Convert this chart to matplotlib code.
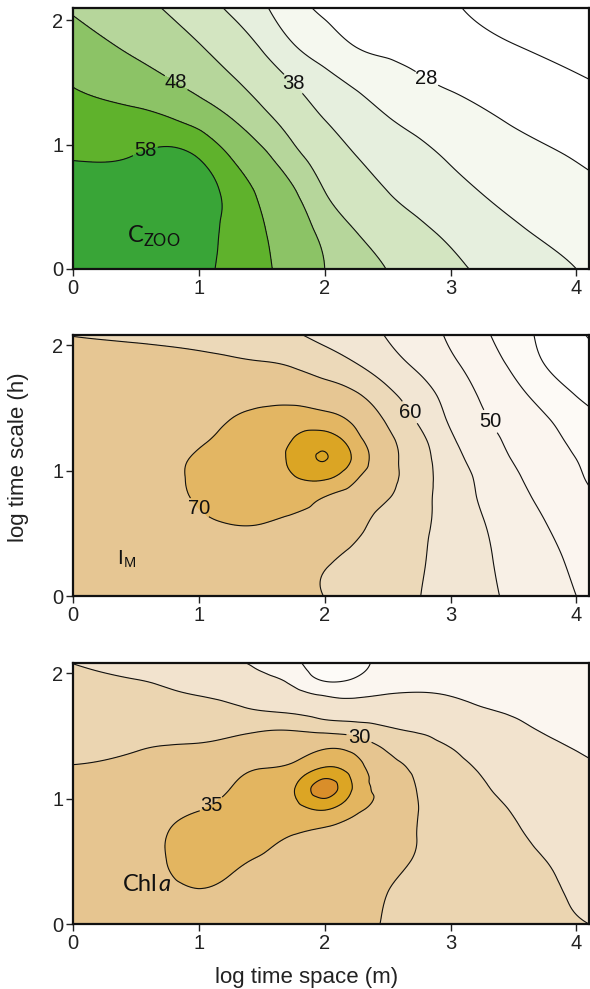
import numpy as np
import matplotlib
matplotlib.use("Agg")
import matplotlib.pyplot as plt
import matplotlib.tri as mtri

plt.rcParams['font.family'] = ['Liberation Sans', 'DejaVu Sans']

# ---------------- data ----------------
# Panel 1: C_ZOO  (rows = log time scale, columns = log space)
zoo_x = [0, 0.5, 1.0, 1.25, 1.5, 1.75, 2.0, 2.25, 2.5, 2.75, 3.0, 3.5, 4.1]
zoo_y = [0, 0.3, 0.6, 0.9, 1.2, 1.5, 1.8, 2.1]
zoo_z = [
    [62.0, 62.0, 59.3, 56.6, 53.9, 51.0, 48.0, 45.4, 42.9, 41.0, 39.0, 35.8, 32.5],
    [62.0, 62.0, 59.8, 56.9, 53.5, 50.2, 46.7, 43.0, 41.0, 38.9, 37.1, 33.7, 31.0],
    [61.5, 61.5, 59.8, 56.7, 52.3, 48.8, 43.25, 40.6, 38.2, 36.4, 34.6, 31.8, 29.2],
    [57.6, 58.3, 57.8, 53.0, 49.3, 44.5, 41.0, 38.1, 36.2, 34.3, 32.6, 30.1, 27.2],
    [55.0, 54.3, 51.3, 48.3, 44.6, 41.1, 38.0, 35.6, 33.3, 31.7, 30.3, 27.5, 24.9],
    [52.7, 50.2, 46.5, 43.9, 40.9, 37.9, 34.7, 32.2, 30.4, 28.7, 27.4, 25.5, 23.2],
    [50.0, 47.0, 43.2, 40.5, 37.5, 33.2, 30.4, 27.8, 26.9, 26.0, 25.0, 23.1, 20.8],
    [47.5, 44.4, 40.2, 37.4, 34.0, 29.8, 27.0, 26.2, 25.3, 24.4, 23.4, 21.3, 19.5],
]
zoo_levels = [23, 28, 33, 38, 43, 48, 53, 58]

# Panel 2: I_M  (rows = log time scale, columns = log space)
im_x = [0, 0.5, 1.0, 1.25, 1.5, 1.75, 2.0, 2.25, 2.5, 2.75, 3.0, 3.25, 3.5, 3.75, 4.1]
im_y = [0, 0.3, 0.6, 0.8, 0.95, 1.1, 1.25, 1.4, 1.6, 1.85, 2.1]
im_z = [
    [67.5, 67.5, 67.3, 67.0, 66.5, 65.8, 64.95, 63.4, 61.8, 60.1, 58.1, 56.1, 54.1, 52.0, 49.2],
    [67.8, 67.8, 67.8, 67.6, 67.2, 66.5, 65.5, 64.1, 62.5, 60.5, 58.2, 55.8, 53.5, 51.3, 48.1],
    [68.0, 68.2, 69.6, 70.2, 70.2, 69.5, 68.3, 66.2, 63.4, 61.0, 58.2, 55.2, 52.6, 50.0, 46.6],
    [68.0, 68.5, 70.3, 71.0, 71.5, 71.9, 70.2, 68.0, 65.4, 61.7, 57.9, 54.4, 51.5, 48.8, 45.5],
    [68.0, 68.6, 70.5, 71.5, 72.5, 74.7, 76.2, 70.7, 66.3, 62.0, 57.8, 53.9, 50.7, 48.0, 44.6],
    [68.0, 68.7, 70.3, 71.5, 73.0, 76.3, 80.2, 73.5, 66.6, 62.0, 56.9, 52.9, 49.7, 47.3, 43.9],
    [67.8, 68.5, 69.6, 71.0, 72.5, 75.1, 77.5, 71.5, 65.9, 61.3, 55.7, 51.9, 48.8, 46.4, 42.8],
    [67.5, 68.0, 68.8, 70.05, 71.2, 72.2, 72.0, 69.0, 64.4, 59.4, 54.4, 50.7, 48.0, 45.5, 41.5],
    [67.0, 67.3, 67.8, 68.3, 68.8, 68.6, 67.5, 65.6, 61.3, 57.3, 53.1, 49.5, 46.5, 43.1, 38.8],
    [66.5, 66.3, 66.0, 65.7, 65.3, 64.5, 62.5, 60.1, 57.0, 54.0, 50.9, 47.6, 44.0, 39.9, 36.6],
    [64.7, 64.2, 63.5, 62.8, 61.8, 60.3, 58.4, 56.6, 54.6, 52.0, 49.2, 45.8, 42.2, 38.8, 34.5],
]
im_levels = [35, 40, 45, 50, 55, 60, 65, 70, 75, 80]

# Panel 3: Chla  (given column by column: one list per log-space value)
chl_x = [0, 0.5, 0.75, 1.0, 1.25, 1.5, 1.75, 2.0, 2.25, 2.5, 2.75, 3.0, 3.25, 3.5, 3.75, 4.1]
chl_y = [0, 0.25, 0.5, 0.7, 0.9, 1.08, 1.25, 1.4, 1.55, 1.7, 1.85, 1.95, 2.1]
chl_cols = [
    [32.3, 32.4, 32.2, 31.8, 31.2, 30.7, 30.1, 29.2, 28.3, 27.4, 26.5, 25.9, 24.8],
    [32.8, 33.4, 33.7, 33.5, 33.0, 32.2, 31.0, 29.8, 28.5, 27.2, 25.9, 25.0, 23.7],
    [33.1, 34.2, 35.05, 35.05, 34.2, 33.0, 31.7, 30.3, 28.4, 26.8, 25.3, 24.4, 23.3],
    [33.3, 34.8, 36.4, 36.6, 35.0, 33.4, 31.8, 30.4, 28.7, 26.6, 24.6, 23.4, 21.8],
    [33.2, 34.3, 35.7, 37.0, 36.6, 35.0, 33.3, 31.2, 29.0, 26.0, 23.8, 22.4, 20.4],
    [32.8, 33.5, 34.6, 36.2, 37.3, 36.6, 34.8, 32.2, 29.6, 25.0, 22.6, 21.0, 18.9],
    [32.2, 32.9, 33.7, 34.9, 37.6, 39.5, 36.0, 32.8, 29.7, 24.2, 20.9, 18.6, 15.8],
    [31.5, 32.1, 32.8, 34.0, 39.6, 47.0, 40.0, 34.8, 28.6, 22.8, 18.8, 14.4, 12.8],
    [30.7, 31.2, 31.9, 32.9, 35.6, 38.5, 36.8, 33.5, 27.5, 22.3, 18.7, 15.5, 13.5],
    [29.8, 30.0, 30.8, 31.5, 33.0, 33.6, 31.8, 29.4, 25.5, 22.8, 19.6, 17.8, 16.4],
    [28.9, 29.2, 29.7, 29.9, 29.95, 29.6, 28.6, 26.6, 24.6, 22.5, 19.95, 18.6, 17.4],
    [28.0, 28.3, 28.5, 28.6, 28.3, 27.6, 26.3, 25.05, 23.6, 21.5, 19.6, 18.6, 17.6],
    [27.3, 27.4, 27.4, 27.1, 26.5, 25.6, 24.4, 23.2, 21.9, 20.3, 19.0, 18.3, 17.5],
    [26.6, 26.4, 26.1, 25.6, 24.8, 23.7, 22.6, 21.6, 20.6, 19.7, 18.7, 18.0, 17.3],
    [25.9, 25.6, 25.05, 24.2, 23.2, 22.3, 21.4, 20.6, 19.8, 19.1, 18.3, 17.8, 17.1],
    [25.0, 24.0, 23.2, 22.5, 21.8, 21.1, 20.3, 19.7, 19.1, 18.5, 17.9, 17.5, 16.9],
]
chl_levels = [15, 20, 25, 30, 35, 40, 45]

x_ticks = [0, 1, 2, 3, 4]
y_ticks = [0, 1, 2]

# ---------------- styles ----------------
zoo_colors = ['#ffffff', '#ffffff', '#f5f8ef', '#e6efde', '#d3e5c1', '#b6d69b',
              '#8cc366', '#5fb22c', '#39a537']
im_colors = ['#ffffff', '#ffffff', '#fdfaf6', '#fbf5ef', '#f8f0e6', '#f2e6d4',
             '#ecd9b9', '#e6c693', '#e3b663', '#dba524', '#dba524']
chl_colors = ['#fdfbf8', '#fbf6f0', '#f2e3ce', '#ebd5b1', '#e6c590', '#e3b560',
              '#dca524', '#d98e2a']

W, H = 590, 989
fig = plt.figure(figsize=(W / 100, H / 100), dpi=100)


def refine(xs, ys, z, diag):
    gx, gy = np.meshgrid(xs, ys)
    ny, nx = gx.shape
    idx = np.arange(nx * ny).reshape(ny, nx)
    tris = []
    for j in range(ny - 1):
        for i in range(nx - 1):
            a, b = idx[j, i], idx[j, i + 1]
            c, d = idx[j + 1, i], idx[j + 1, i + 1]
            if diag == 'down':      # diagonal from upper-left to lower-right
                tris += [[a, b, c], [b, d, c]]
            else:                   # diagonal from lower-left to upper-right
                tris += [[a, b, d], [a, d, c]]
    tri = mtri.Triangulation(gx.ravel(), gy.ravel(), triangles=np.array(tris))
    zz = np.asarray(z, float).ravel()
    interp = mtri.CubicTriInterpolator(tri, zz, kind='min_E')
    return mtri.UniformTriRefiner(tri).refine_field(zz, triinterpolator=interp, subdiv=4)


def panel(rect_px, xs, ys, z, levels, colors, lab_pos, ytop, diag):
    l, t, r, b = rect_px
    ax = fig.add_axes([l / W, 1 - b / H, (r - l) / W, (b - t) / H])
    tr, zf = refine(xs, ys, z, diag)
    fill_levels = [0] + list(levels) + [200]
    ax.tricontourf(tr, zf, levels=fill_levels, colors=colors)
    cs = ax.tricontour(tr, zf, levels=levels, colors='#111111', linewidths=0.8)
    labels = ax.clabel(cs, manual=lab_pos, fmt='%d', fontsize=14.5,
                       inline=True, inline_spacing=2)
    for lab in labels:
        lab.set_rotation(0)
        lab.set_color('#111111')
    ax.set_xlim(0, 4.1)
    ax.set_ylim(0, ytop)
    ax.set_xticks(x_ticks)
    ax.set_xticklabels([str(v) for v in x_ticks])
    ax.set_yticks(y_ticks)
    ax.set_yticklabels([str(v) for v in y_ticks])
    ax.tick_params(direction='out', length=5, width=1.0, labelsize=14.5, pad=2,
                   colors='#222222')
    for s in ax.spines.values():
        s.set_linewidth(1.6)
        s.set_color('#111111')
    return ax


ax1 = panel((73, 8, 589, 269), zoo_x, zoo_y, zoo_z, zoo_levels, zoo_colors,
            [(0.58, 0.93), (0.85, 1.55), (1.75, 1.49), (2.81, 1.53)], 2.1, 'down')
ax2 = panel((73, 335, 589, 596), im_x, im_y, im_z, im_levels, im_colors,
            [(0.98, 0.68), (2.67, 1.46), (3.33, 1.40)], 2.08, 'down')
ax3 = panel((73, 663, 589, 924), chl_x, chl_y, np.transpose(chl_cols), chl_levels,
            chl_colors, [(1.10, 0.95), (2.27, 1.47)], 2.08, 'up')

ax1.text(0.43, 0.21, r'C$_{\mathregular{ZOO}}$', fontsize=17, family=['Lato', 'DejaVu Sans'],
         ha='left', va='baseline', color='#111111')
ax2.text(0.35, 0.25, r'I$_{\mathregular{M}}$', fontsize=15, ha='left', va='baseline',
         color='#111111')
t = ax3.text(0.40, 0.26, 'Chl', fontsize=17, family=['Lato', 'DejaVu Sans'],
             ha='left', va='baseline', color='#111111')
ax3.annotate('a', xy=(1, 0), xycoords=t, ha='left', va='bottom', fontsize=17,
             family=['Lato', 'DejaVu Sans'], style='italic', color='#111111')

fig.text(307 / W, 1 - 977 / H, 'log time space (m)', fontsize=16, ha='center',
         va='center', color='#222222')
fig.text(19 / W, 1 - 457 / H, 'log time scale (h)', fontsize=16, ha='center',
         va='center', rotation=90, color='#222222')

fig.savefig('out.png', dpi=100)
